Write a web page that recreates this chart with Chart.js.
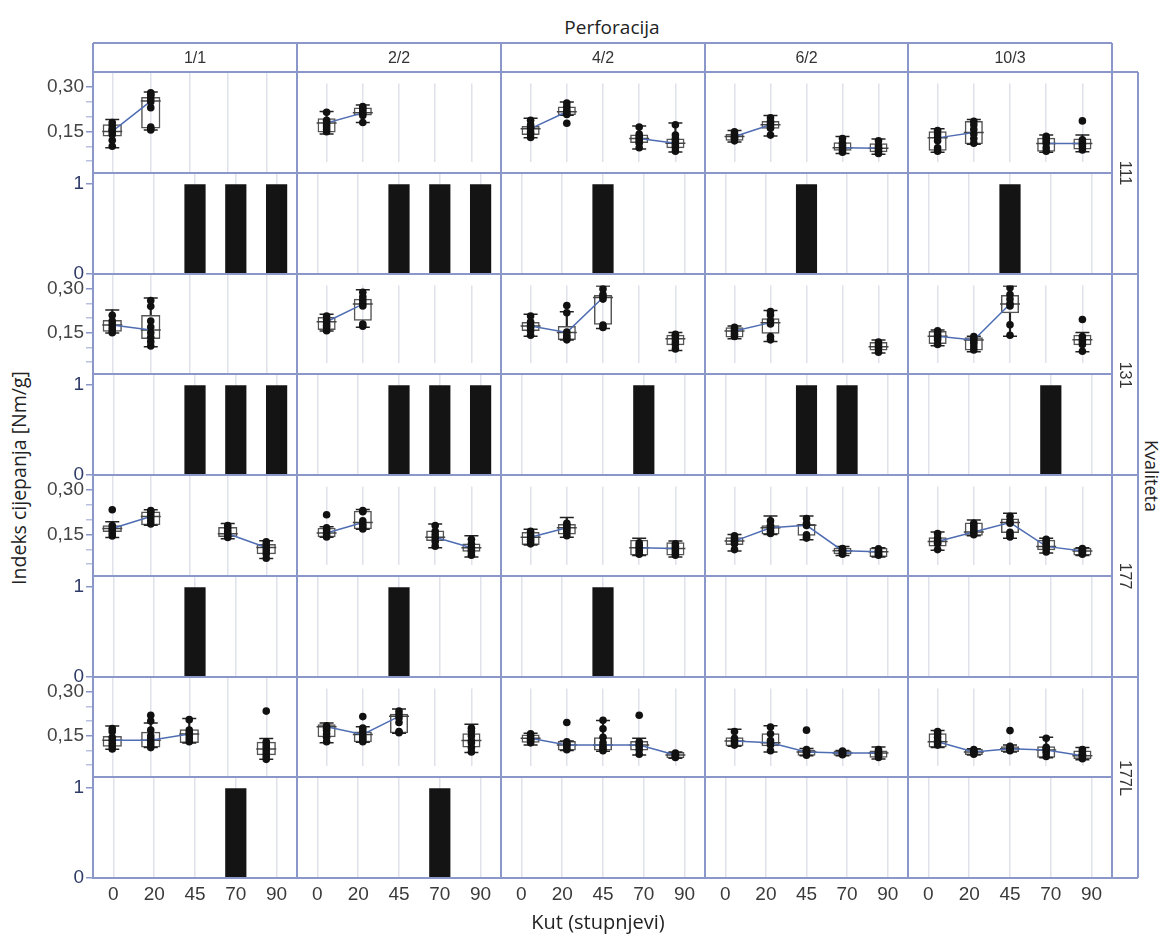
<!DOCTYPE html>
<html>
<head>
<meta charset="utf-8">
<script src="https://cdn.jsdelivr.net/npm/chart.js@4.4.0/dist/chart.umd.min.js"></script>
<style>
  body { margin: 0; background: #fff; width: 1166px; height: 938px; position: relative; overflow: hidden;
         font-family: "Liberation Sans", Arial, sans-serif; color: #333; }
  canvas { position: absolute; }
  .ln { position: absolute; background: #8a97c8; z-index: 5; }
  .txt { position: absolute; white-space: nowrap; transform: translate(-50%, -50%); z-index: 6; }
  .title { font-family: "Open Sans", "Noto Sans", sans-serif; font-size: 18px; color: #222; }
</style>
</head>
<body>
<script>
const perforacija = ['1/1', '2/2', '4/2', '6/2', '10/3'];
const kvaliteta = ['111', '131', '177', '177L'];
const kut = ['0', '20', '45', '70', '90'];
const boxTicks = [0.05, 0.10, 0.15, 0.20, 0.25, 0.30];
const boxTickLabels = ['', '', '0,15', '', '', '0,30'];
const barTicks = [0, 1];

// box stats per perforation, per angle: [low whisker, q1, median, q3, high whisker]
const box111 = [
  [[0.095, 0.133, 0.150, 0.174, 0.190], [0.155, 0.160, 0.252, 0.266, 0.283], null, null, null],
  [[0.130, 0.136, 0.178, 0.199, 0.228], [0.180, 0.211, 0.222, 0.245, 0.256], null, null, null],
  [[0.113, 0.125, 0.153, 0.165, 0.199], [0.212, 0.212, 0.227, 0.250, 0.269], null, [0.064, 0.091, 0.110, 0.128, 0.165], [0.051, 0.068, 0.090, 0.110, 0.178]],
  [[0.095, 0.100, 0.119, 0.130, 0.145], [0.121, 0.153, 0.170, 0.187, 0.210], null, [0.045, 0.057, 0.070, 0.094, 0.119], [0.042, 0.050, 0.068, 0.090, 0.108]],
  [[0.050, 0.057, 0.113, 0.142, 0.153], [0.085, 0.085, 0.136, 0.187, 0.193], null, [0.050, 0.053, 0.088, 0.113, 0.125], [0.053, 0.062, 0.088, 0.110, 0.125]]
];
const pts111 = [
  [[0.10, 0.12, 0.14, 0.15, 0.155, 0.16, 0.17, 0.18], [0.155, 0.16, 0.165, 0.23, 0.25, 0.26, 0.27, 0.28, 0.275], [], [], []],
  [[0.14, 0.15, 0.16, 0.17, 0.18, 0.19, 0.225], [0.18, 0.21, 0.22, 0.23, 0.24, 0.25], [], [], []],
  [[0.115, 0.13, 0.14, 0.155, 0.16, 0.17, 0.19], [0.177, 0.215, 0.225, 0.235, 0.25, 0.265], [], [0.07, 0.09, 0.10, 0.11, 0.12, 0.13, 0.16], [0.055, 0.07, 0.08, 0.09, 0.10, 0.11, 0.125, 0.17]],
  [[0.10, 0.11, 0.115, 0.12, 0.13, 0.14], [0.125, 0.155, 0.165, 0.175, 0.185, 0.20], [], [0.05, 0.06, 0.07, 0.08, 0.09, 0.11], [0.045, 0.055, 0.065, 0.07, 0.08, 0.10]],
  [[0.055, 0.07, 0.10, 0.115, 0.13, 0.145], [0.09, 0.11, 0.13, 0.15, 0.17, 0.185], [], [0.055, 0.07, 0.09, 0.10, 0.11, 0.12], [0.06, 0.075, 0.085, 0.095, 0.105, 0.187]]
];
const bar111 = [[0, 0, 1, 1, 1], [0, 0, 1, 1, 1], [0, 0, 1, 0, 0], [0, 0, 1, 0, 0], [0, 0, 1, 0, 0]];

const box131 = [
  [[0.149, 0.154, 0.177, 0.194, 0.228], [0.103, 0.129, 0.160, 0.211, 0.268], null, null, null],
  [[0.149, 0.154, 0.190, 0.211, 0.223], [0.166, 0.194, 0.268, 0.291, 0.331], null, null, null],
  [[0.126, 0.149, 0.171, 0.189, 0.223], [0.109, 0.109, 0.143, 0.171, 0.234], [0.160, 0.177, 0.297, 0.308, 0.348], null, [0.063, 0.086, 0.115, 0.132, 0.143]],
  [[0.115, 0.120, 0.149, 0.166, 0.171], [0.103, 0.137, 0.186, 0.205, 0.240], null, null, [0.052, 0.063, 0.080, 0.100, 0.109]],
  [[0.084, 0.092, 0.126, 0.149, 0.154], [0.058, 0.063, 0.109, 0.122, 0.126], [0.126, 0.228, 0.268, 0.308, 0.348], null, [0.058, 0.086, 0.110, 0.132, 0.143]]
];
const pts131 = [
  [[0.15, 0.16, 0.17, 0.18, 0.19, 0.21], [0.105, 0.12, 0.135, 0.15, 0.17, 0.19, 0.24, 0.26], [], [], []],
  [[0.15, 0.165, 0.175, 0.185, 0.20, 0.215], [0.17, 0.18, 0.26, 0.27, 0.285, 0.30, 0.32], [], [], []],
  [[0.13, 0.15, 0.165, 0.175, 0.19, 0.215], [0.11, 0.12, 0.13, 0.145, 0.23, 0.262], [0.165, 0.175, 0.29, 0.30, 0.31, 0.335], [], [0.07, 0.09, 0.10, 0.115, 0.125, 0.135]],
  [[0.125, 0.135, 0.145, 0.155, 0.165], [0.11, 0.125, 0.18, 0.195, 0.22, 0.235], [], [], [0.055, 0.07, 0.08, 0.09, 0.10]],
  [[0.09, 0.11, 0.12, 0.13, 0.14, 0.15], [0.065, 0.08, 0.095, 0.105, 0.115, 0.125], [0.13, 0.177, 0.26, 0.27, 0.29, 0.31, 0.34], [], [0.06, 0.09, 0.10, 0.11, 0.125, 0.20]]
];
const bar131 = [[0, 0, 1, 1, 1], [0, 0, 1, 1, 1], [0, 0, 0, 1, 0], [0, 0, 1, 1, 0], [0, 0, 0, 1, 0]];

const box177 = [
  [[0.140, 0.158, 0.170, 0.181, 0.193], [0.181, 0.181, 0.210, 0.227, 0.233], null, [0.135, 0.141, 0.152, 0.175, 0.187], [0.069, 0.083, 0.106, 0.118, 0.129]],
  [[0.129, 0.129, 0.147, 0.170, 0.175], [0.164, 0.164, 0.193, 0.244, 0.250], null, [0.083, 0.112, 0.129, 0.158, 0.187], [0.043, 0.066, 0.083, 0.101, 0.135]],
  [[0.095, 0.095, 0.129, 0.152, 0.164], [0.129, 0.141, 0.170, 0.187, 0.215], null, [0.049, 0.049, 0.083, 0.118, 0.124], [0.043, 0.049, 0.080, 0.107, 0.112]],
  [[0.069, 0.095, 0.112, 0.129, 0.141], [0.141, 0.141, 0.170, 0.181, 0.221], [0.118, 0.135, 0.181, 0.187, 0.221], [0.049, 0.055, 0.070, 0.083, 0.089], [0.043, 0.043, 0.066, 0.083, 0.083]],
  [[0.072, 0.089, 0.110, 0.129, 0.152], [0.135, 0.135, 0.152, 0.193, 0.204], [0.124, 0.147, 0.193, 0.210, 0.233], [0.060, 0.072, 0.089, 0.118, 0.124], [0.049, 0.049, 0.069, 0.083, 0.083]]
];
const pts177 = [
  [[0.145, 0.155, 0.165, 0.17, 0.18, 0.233], [0.185, 0.195, 0.205, 0.215, 0.225, 0.23], [], [0.14, 0.15, 0.16, 0.17, 0.18], [0.07, 0.085, 0.095, 0.105, 0.115, 0.125]],
  [[0.13, 0.14, 0.15, 0.16, 0.17, 0.227], [0.165, 0.175, 0.185, 0.20, 0.24, 0.245], [], [0.09, 0.11, 0.125, 0.14, 0.155, 0.18], [0.05, 0.065, 0.075, 0.085, 0.10, 0.12]],
  [[0.10, 0.11, 0.12, 0.13, 0.14, 0.155], [0.135, 0.15, 0.16, 0.17, 0.18, 0.19], [], [0.055, 0.065, 0.075, 0.085, 0.095, 0.105], [0.05, 0.06, 0.07, 0.08, 0.09, 0.10]],
  [[0.075, 0.10, 0.11, 0.115, 0.125, 0.135], [0.145, 0.155, 0.165, 0.175, 0.18, 0.20], [0.125, 0.13, 0.14, 0.18, 0.19, 0.21], [0.055, 0.06, 0.065, 0.07, 0.075, 0.08], [0.05, 0.055, 0.06, 0.065, 0.07, 0.078]],
  [[0.075, 0.10, 0.105, 0.115, 0.125, 0.145], [0.14, 0.15, 0.16, 0.17, 0.18, 0.19], [0.13, 0.14, 0.15, 0.19, 0.20, 0.22], [0.065, 0.08, 0.09, 0.10, 0.11, 0.12], [0.055, 0.06, 0.065, 0.07, 0.075, 0.08]]
];
const bar177 = [[0, 0, 1, 0, 0], [0, 0, 1, 0, 0], [0, 0, 1, 0, 0], [0, 0, 0, 0, 0], [0, 0, 0, 0, 0]];

const box177L = [
  [[0.104, 0.113, 0.135, 0.149, 0.183], [0.110, 0.110, 0.135, 0.164, 0.194], [0.126, 0.126, 0.156, 0.172, 0.209], null, [0.070, 0.084, 0.105, 0.130, 0.141]],
  [[0.110, 0.135, 0.181, 0.192, 0.198], [0.113, 0.113, 0.147, 0.160, 0.181], [0.152, 0.152, 0.227, 0.238, 0.260], null, [0.067, 0.090, 0.120, 0.152, 0.192]],
  [[0.100, 0.110, 0.130, 0.147, 0.152], [0.076, 0.076, 0.101, 0.118, 0.118], [0.073, 0.076, 0.101, 0.135, 0.209], [0.056, 0.076, 0.100, 0.118, 0.130], [0.042, 0.042, 0.056, 0.070, 0.070]],
  [[0.095, 0.095, 0.118, 0.135, 0.170], [0.070, 0.095, 0.110, 0.152, 0.186], [0.053, 0.053, 0.070, 0.080, 0.085], [0.053, 0.053, 0.065, 0.076, 0.076], [0.039, 0.044, 0.065, 0.076, 0.092]],
  [[0.090, 0.090, 0.115, 0.152, 0.164], [0.056, 0.056, 0.070, 0.084, 0.084], [0.070, 0.070, 0.084, 0.095, 0.100], [0.044, 0.044, 0.078, 0.095, 0.135], [0.035, 0.039, 0.053, 0.076, 0.090]]
];
const pts177L = [
  [[0.105, 0.115, 0.125, 0.135, 0.145, 0.165, 0.175], [0.11, 0.12, 0.13, 0.14, 0.15, 0.17, 0.20, 0.22], [0.13, 0.14, 0.15, 0.16, 0.17, 0.205], [], [0.07, 0.08, 0.09, 0.10, 0.11, 0.12, 0.13, 0.234]],
  [[0.115, 0.135, 0.15, 0.165, 0.175, 0.185], [0.115, 0.125, 0.135, 0.145, 0.16, 0.175, 0.226], [0.155, 0.16, 0.20, 0.22, 0.235, 0.25], [], [0.07, 0.09, 0.11, 0.12, 0.14, 0.16, 0.175]],
  [[0.11, 0.12, 0.125, 0.13, 0.14, 0.15], [0.08, 0.09, 0.10, 0.105, 0.115, 0.20], [0.075, 0.085, 0.095, 0.11, 0.135, 0.172, 0.21], [0.06, 0.08, 0.095, 0.105, 0.115, 0.232], [0.045, 0.05, 0.055, 0.06, 0.065]],
  [[0.10, 0.11, 0.12, 0.13, 0.16], [0.075, 0.10, 0.11, 0.12, 0.15, 0.18], [0.055, 0.065, 0.07, 0.075, 0.08, 0.166], [0.058, 0.062, 0.066, 0.07, 0.074], [0.045, 0.055, 0.06, 0.065, 0.07, 0.08]],
  [[0.10, 0.11, 0.12, 0.135, 0.15, 0.16], [0.06, 0.065, 0.07, 0.075, 0.08], [0.075, 0.08, 0.085, 0.09, 0.095, 0.164], [0.05, 0.065, 0.075, 0.085, 0.09, 0.13], [0.04, 0.05, 0.055, 0.06, 0.07, 0.08]]
];
const bar177L = [[0, 0, 0, 1, 0], [0, 0, 0, 1, 0], [0, 0, 0, 0, 0], [0, 0, 0, 0, 0], [0, 0, 0, 0, 0]];

const boxes = [box111, box131, box177, box177L];
const points = [pts111, pts131, pts177, pts177L];
const bars = [bar111, bar131, bar177, bar177L];

// layout (px)
const colX = [93, 297, 501, 705, 908, 1112];
const rowY = [72, 173, 274, 374, 475, 576, 677, 777, 878];
const AXIS_W = 60, AXIS_H = 34, PAD = 14;
const FRAME = '#8a97c8';
const GRID = '#dfe2ea';

Chart.defaults.font.family = '"Liberation Sans", Arial, sans-serif';

function addDiv(cls, css, text) {
  const d = document.createElement('div');
  d.className = cls;
  Object.assign(d.style, css);
  if (text !== undefined) d.textContent = text;
  document.body.appendChild(d);
  return d;
}

function panelCanvas(c, r) {
  const left = c === 0, bottom = r === 7;
  let x = colX[c], y = rowY[r], w = colX[c + 1] - colX[c], h = rowY[r + 1] - rowY[r];
  const padding = { top: 0, bottom: 0, left: 0, right: 0 };
  if (left) { x -= AXIS_W; w += AXIS_W; y -= PAD; h += 2 * PAD; padding.top = PAD; padding.bottom = PAD; }
  if (bottom) h += AXIS_H;
  const cv = document.createElement('canvas');
  cv.width = w; cv.height = h;
  cv.style.left = x + 'px'; cv.style.top = y + 'px';
  cv.style.width = w + 'px'; cv.style.height = h + 'px';
  document.body.appendChild(cv);
  return { cv, padding, left, bottom };
}

function xScale(bottom) {
  return {
    type: 'category', labels: kut, offset: true,
    grid: { offset: false, color: GRID, lineWidth: 1.5, drawTicks: false },
    border: { display: false },
    ticks: { display: bottom, autoSkip: false, maxRotation: 0, color: '#3a3a3a', font: { size: 19 }, padding: 5 },
    afterFit: s => { s.height = bottom ? AXIS_H : 0; }
  };
}

function yScale(left, min, max, ticks, labels, color, size) {
  return {
    type: 'linear', min, max, display: left,
    afterBuildTicks: s => { s.ticks = ticks.map(v => ({ value: v })); },
    grid: { drawOnChartArea: false, drawTicks: true, tickLength: 7, tickColor: (ctx) => labels[ctx.index] ? FRAME : '#b9c1e0', lineWidth: 1.5 },
    border: { display: false },
    ticks: { autoSkip: false, color, font: { size }, padding: 2, callback: (v, i) => labels[i] },
    afterFit: s => { s.width = left ? AXIS_W : 0; }
  };
}

const baseOpts = (padding) => ({
  responsive: false, animation: false, events: [],
  layout: { padding },
  plugins: { legend: { display: false }, tooltip: { enabled: false } }
});

function boxPanel(c, r, stats, pts) {
  const { cv, padding, left, bottom } = panelCanvas(c, r);
  const pick = k => stats.map(s => s ? s[k] : null);
  const range = (a, b) => stats.map(s => s ? [s[a], s[b]] : null);
  const dots = pts.flatMap((arr, i) => arr.map(v => ({ x: kut[i], y: v })));
  new Chart(cv, {
    type: 'bar',
    data: {
      labels: kut,
      datasets: [
        { type: 'line', data: dots, showLine: false, pointRadius: 3.8, pointBackgroundColor: '#111', pointBorderWidth: 0, order: 0 },
        { type: 'line', data: pick(2), borderColor: '#4f6db3', borderWidth: 1.5, pointRadius: 0, spanGaps: false, order: 1 },
        { type: 'line', data: pick(2), showLine: false, pointStyle: 'line', pointRadius: 10, pointBorderColor: '#444', pointBorderWidth: 1.5, order: 2 },
        { type: 'line', data: pick(0), showLine: false, pointStyle: 'line', pointRadius: 7, pointBorderColor: '#222', pointBorderWidth: 1.5, order: 2 },
        { type: 'line', data: pick(4), showLine: false, pointStyle: 'line', pointRadius: 7, pointBorderColor: '#222', pointBorderWidth: 1.5, order: 2 },
        { data: range(1, 3), backgroundColor: 'rgba(0,0,0,0)', borderColor: '#555', borderWidth: 1.5, borderSkipped: false,
          barPercentage: 0.5, categoryPercentage: 1, grouped: false, order: 3 },
        { data: range(0, 1), backgroundColor: '#222', barThickness: 1.5, grouped: false, order: 4 },
        { data: range(3, 4), backgroundColor: '#222', barThickness: 1.5, grouped: false, order: 4 }
      ]
    },
    options: Object.assign(baseOpts(padding), {
      scales: {
        x: xScale(bottom),
        y: yScale(left, 0.01, 0.35, boxTicks, boxTickLabels, '#444', 19)
      }
    })
  });
}

function barPanel(c, r, vals) {
  const { cv, padding, left, bottom } = panelCanvas(c, r);
  new Chart(cv, {
    type: 'bar',
    data: {
      labels: kut,
      datasets: [{ data: vals, backgroundColor: '#141414', borderWidth: 0, barPercentage: 0.52, categoryPercentage: 1 }]
    },
    options: Object.assign(baseOpts(padding), {
      scales: {
        x: xScale(bottom),
        y: yScale(left, 0, 1.125, barTicks, ['0', '1'], '#2f3b68', 19)
      }
    })
  });
}

for (let q = 0; q < kvaliteta.length; q++) {
  for (let c = 0; c < perforacija.length; c++) {
    boxPanel(c, 2 * q, boxes[q][c], points[q][c]);
    barPanel(c, 2 * q + 1, bars[q][c]);
  }
}

// panel frames
const HEAD_TOP = 43;
colX.forEach(x => addDiv('ln', { left: (x - 1) + 'px', top: HEAD_TOP + 'px', width: '2px', height: (rowY[8] - HEAD_TOP + 1) + 'px' }));
[HEAD_TOP].concat(rowY).forEach(y => addDiv('ln', { left: colX[0] + 'px', top: (y - 1) + 'px', width: (colX[5] - colX[0]) + 'px', height: '2px' }));
const STRIP_R = 1138;
addDiv('ln', { left: (STRIP_R - 1) + 'px', top: rowY[0] + 'px', width: '2px', height: (rowY[8] - rowY[0]) + 'px' });
[0, 2, 4, 6, 8].forEach(i => addDiv('ln', { left: colX[5] + 'px', top: (rowY[i] - 1) + 'px', width: (STRIP_R - colX[5]) + 'px', height: '2px' }));

// strip labels
perforacija.forEach((p, c) => addDiv('txt', { left: ((colX[c] + colX[c + 1]) / 2) + 'px', top: '58px', fontSize: '16px', color: '#333' }, p));
kvaliteta.forEach((k, q) => addDiv('txt', {
  left: ((colX[5] + STRIP_R) / 2) + 'px', top: ((rowY[2 * q] + rowY[2 * q + 2]) / 2) + 'px',
  fontSize: '16px', color: '#333', transform: 'translate(-50%, -50%) rotate(90deg)'
}, k));

// titles
addDiv('txt title', { left: '612px', top: '27px', fontSize: '19px' }, 'Perforacija');
addDiv('txt title', { left: '598px', top: '921px', fontSize: '20px' }, 'Kut (stupnjevi)');
addDiv('txt title', { left: '18px', top: '478px', fontSize: '19.5px', transform: 'translate(-50%, -50%) rotate(-90deg)' }, 'Indeks cijepanja [Nm/g]');
addDiv('txt title', { left: '1152px', top: '476px', transform: 'translate(-50%, -50%) rotate(90deg)' }, 'Kvaliteta');
</script>
</body>
</html>
